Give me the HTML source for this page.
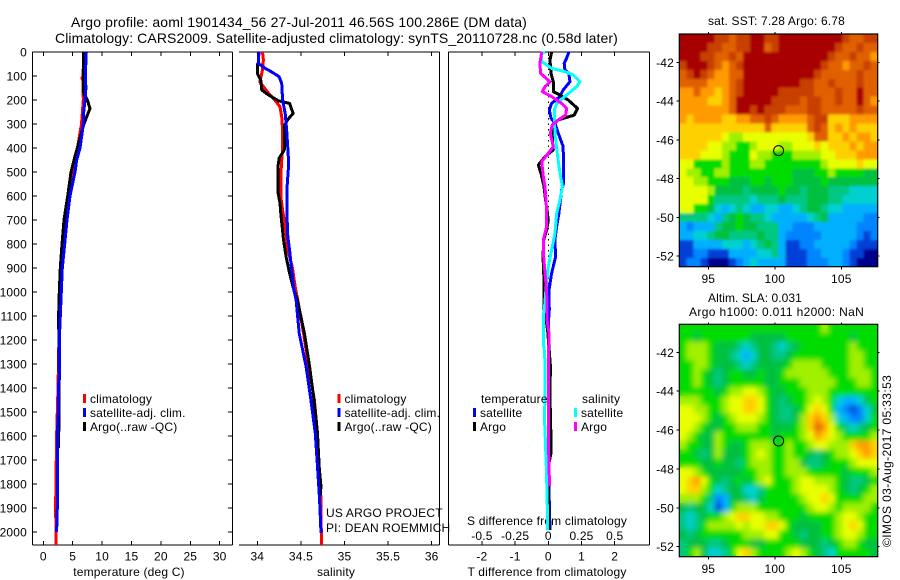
<!DOCTYPE html>
<html>
<head>
<meta charset="utf-8">
<title>Argo profile</title>
<style>
html,body{margin:0;padding:0;background:#fff;}
svg{display:block;}
text{font-family:"Liberation Sans",sans-serif;font-size:12px;fill:#000;letter-spacing:0.18px;}
</style>
</head>
<body>
<svg id="fig" width="900" height="580" viewBox="0 0 900 580" xmlns="http://www.w3.org/2000/svg">
<defs>
<filter id="blur-sst" x="-5%" y="-5%" width="110%" height="110%"><feGaussianBlur stdDeviation="1.4"/></filter>
<filter id="blur-sla" x="-5%" y="-5%" width="110%" height="110%"><feGaussianBlur stdDeviation="2.6"/></filter>
<clipPath id="clip-sst"><rect x="679.3" y="34" width="198.4" height="232.7"/></clipPath>
<clipPath id="clip-sla"><rect x="679.3" y="324.3" width="198.4" height="232.4"/></clipPath>
</defs>
<rect width="900" height="580" fill="#fff"/>
<text x="71" y="27" style="font-size:14px" textLength="456">Argo profile: aoml 1901434_56 27-Jul-2011 46.56S 100.286E (DM data)</text>
<text x="55" y="43" style="font-size:14px" textLength="563">Climatology: CARS2009. Satellite-adjusted climatology: synTS_20110728.nc (0.58d later)</text>
<text x="129" y="576" text-anchor="middle">temperature (deg C)</text>
<text x="336" y="576" text-anchor="middle">salinity</text>
<text x="547" y="576" text-anchor="middle" textLength="159">T difference from climatology</text>
<text x="547" y="525" text-anchor="middle" textLength="160">S difference from climatology</text>
<text x="326" y="517">US ARGO PROJECT</text>
<text x="326" y="532">PI: DEAN ROEMMICH</text>
<text x="708" y="25" textLength="137">sat. SST: 7.28 Argo: 6.78</text>
<text x="708" y="302" textLength="94">Altim. SLA: 0.031</text>
<text x="689" y="316" textLength="175">Argo h1000: 0.011 h2000: NaN</text>
<text transform="translate(891,547) rotate(-90)" textLength="172">©IMOS 03-Aug-2017 05:33:53</text>
</svg>
<script>
// ---- axis ticks ----
const depthTicks = [0,100,200,300,400,500,600,700,800,900,1000,1100,1200,1300,1400,1500,1600,1700,1800,1900,2000];
const tempTicks = [0,5,10,15,20,25,30];
const salTicks = [34,34.5,35,35.5,36];
const tDiffTicks = [-2,-1,0,1,2];
const sDiffTicks = [-0.5,-0.25,0,0.25,0.5];
const sDiffLabels = ["-0.5","-0.25","0","0.25","0.5"];
const lonTicks = [95,100,105];
const latTicks = [-42,-44,-46,-48,-50,-52];

// ---- temperature panel ----
const tempClimDepth = [0,100,110,120,200,300,400,500,600,700,800,900,1000,1100,1200,1400,1600,1900,2054];
const tempClimValue = [6.9,6.75,6.55,6.75,6.8,6.5,5.8,4.98,4.4,3.9,3.5,3.15,2.95,2.75,2.65,2.5,2.27,2.1,2.2];
const tempSatDepth = [0,100,150,200,250,300,350,400,450,500,600,700,800,900,1000,1100,1200,1350,1400,1500,1600,1900,2000];
const tempSatValue = [7.31,7.15,7.25,7.1,6.87,6.8,6.53,6.24,5.68,5.39,4.54,4.03,3.64,3.23,3.06,2.89,2.72,2.72,2.55,2.55,2.38,2.38,2.27];
const tempArgoDepth = [0,170,200,235,270,300,400,450,500,600,700,800,900,1000,1100,1350,1650];
const tempArgoValue = [6.87,6.87,7.49,7.94,7.38,6.9,5.78,5.22,4.71,4.15,3.52,3.18,2.89,2.72,2.6,2.72,2.6];

// ---- salinity panel ----
const salClimDepth = [0,33,75,124,144,172,200,228,270,325,408,450,519,603,658,728,825,894,992,1033,1172,1311,1450,1589,1728,1867,2054];
const salClimValue = [34.06,34.07,34.06,34.03,34.07,34.13,34.2,34.26,34.28,34.29,34.29,34.28,34.27,34.27,34.29,34.32,34.35,34.4,34.44,34.465,34.53,34.59,34.655,34.69,34.71,34.73,34.735];
const salSatDepth = [0,47,68,82,103,131,200,256,339,464,519,575,672,769,825,894,992,1033,1172,1311,1450,1589,1728,1867,2005];
const salSatValue = [34.02,34.01,34.09,34.16,34.25,34.28,34.29,34.32,34.34,34.36,34.35,34.34,34.34,34.35,34.37,34.39,34.42,34.445,34.48,34.56,34.615,34.665,34.69,34.715,34.73];
const salArgoDepth = [47,89,117,158,179,203,214,256,281,308,408,443,471,589,631,672,783,853,922,992,1033,1172,1311,1450,1589,1728,1811,1850];
const salArgoValue = [34,34,34.04,34.05,34.13,34.24,34.37,34.41,34.35,34.31,34.31,34.25,34.24,34.24,34.26,34.27,34.3,34.33,34.37,34.42,34.46,34.54,34.6,34.65,34.69,34.71,34.73,34.72];

// ---- difference panel ----
const dTSatDepth = [0,26,47,75,89,124,158,186,214,242,276,297,339,394,547,575,672,728,783,853,922,992,1075,1116,1172,1311,1450,1589,1728,1825,1991];
const dTSatValue = [0.62,0.55,0.48,0.5,0.62,0.65,0.45,0.35,0.1,0.03,0.08,0.2,0.3,0.45,0.46,0.4,0.32,0.25,0.2,0.22,0.1,0.02,0.03,0.01,0,0,0,0,0,0.02,0.05];
const dTArgoDepth = [0,33,89,124,165,179,200,235,263,283,304,367,408,436,471,506,561,617,700,742,783,853,950,1075,1116,1158,1318,1380,1436,1616,1672,1728,1991];
const dTArgoValue = [0.1,0.05,0.08,0.15,0.15,0.35,0.6,0.88,0.78,0.3,0.15,0.12,0.15,-0.1,-0.3,-0.22,-0.13,-0.08,0,-0.05,-0.14,-0.16,-0.13,-0.13,-0.07,-0.02,0.07,0.05,0.05,0.08,0.08,0,0.02];
const dSSatDepth = [0,6,40,68,82,96,124,144,179,214,242,339,422,506,561,617,672,756,811,894,992,1075,1088,1213,1241,1311,1450,1519,1575,1728,1866,1991];
const dSSatValue = [-0.025,-0.05,-0.05,0.025,0.126,0.188,0.239,0.214,0.138,0.063,0.045,0.05,0.068,0.088,0.106,0.088,0.063,0.05,0.03,0,-0.018,-0.03,-0.035,-0.038,-0.03,-0.023,-0.025,-0.03,-0.025,-0.015,-0.008,-0.005];
const dSArgoDepth = [0,47,89,124,144,165,186,214,235,263,283,304,339,394,422,457,519,561,658,728,783,853,922,992,1075,1116,1172,1311,1450,1589,1728,1811];
const dSArgoValue = [-0.05,-0.063,-0.058,0.013,-0.025,-0.045,0.025,0.1,0.138,0.13,0.075,0.03,0.015,0.038,0,-0.05,-0.038,-0.025,-0.013,-0.013,-0.038,-0.035,-0.025,-0.013,-0.008,-0.01,0.005,0,0,0,0.005,0.01];

// ---- maps ----
const mapPalette = ["#00008f","#0040d8","#0084ff","#00b0ff","#00d0d0","#00c880","#00c040","#00dc00","#a0f000","#e8ff00","#ffd000","#ff9a00","#e06000","#c84000","#a80000"];
const profileLon = 100.286;
const profileLat = -46.56;
const sstLevels = [
[14,14,14,14,14,13,13,12,13,13,14,14,13,13,14,14,14,14,14,14,14,14,14,13,12,12,13,13],
[14,14,14,14,13,13,12,12,13,13,14,14,12,13,14,14,14,14,14,14,14,14,13,12,12,13,12,12],
[14,14,14,13,13,12,12,13,12,14,14,14,14,14,14,14,14,14,14,14,14,13,12,12,13,12,12,11],
[13,14,14,14,13,12,11,12,13,14,14,14,14,14,14,14,14,14,14,14,13,12,12,11,12,12,13,12],
[12,13,14,13,12,11,11,12,12,14,14,14,14,14,14,14,14,14,14,13,12,12,12,12,12,13,12,12],
[12,12,12,12,11,11,11,12,13,14,14,14,14,14,14,14,14,13,13,12,12,13,12,12,12,13,12,12],
[11,11,12,11,11,10,11,12,13,14,14,14,14,14,13,13,13,13,13,12,12,12,13,12,12,14,12,12],
[11,11,11,11,10,10,11,12,14,14,14,14,14,13,13,13,13,12,13,13,12,12,13,12,12,14,12,11],
[11,11,11,11,11,11,11,12,14,14,13,14,13,13,13,12,12,12,13,13,12,12,12,12,12,13,12,12],
[11,10,11,11,11,11,10,10,11,11,12,12,13,12,11,11,11,11,12,13,13,10,10,10,11,11,11,11],
[10,10,10,10,10,10,10,10,10,10,10,10,12,10,10,10,10,10,12,13,12,10,11,10,11,10,10,10],
[10,10,10,10,10,10,9,8,8,9,9,9,9,9,9,9,9,9,10,12,12,10,10,11,10,11,11,10],
[10,10,10,10,9,9,8,8,7,7,8,9,9,9,8,8,9,9,9,10,9,10,10,10,11,10,11,11],
[10,10,10,9,9,9,8,7,7,7,9,8,8,7,7,7,8,8,8,8,9,9,10,10,10,11,11,11],
[9,9,7,7,7,7,8,7,7,7,8,8,7,7,7,7,7,7,7,7,8,9,9,9,9,10,9,9],
[9,8,8,7,7,8,8,7,7,7,7,7,7,7,7,7,6,6,6,7,7,8,7,7,7,7,6,6],
[9,9,8,8,7,7,7,6,6,6,7,7,6,7,7,7,6,6,6,6,7,6,6,6,6,6,6,6],
[9,9,9,9,8,6,6,6,6,5,6,6,6,6,7,6,6,5,6,6,6,5,5,5,4,4,4,4],
[9,9,9,9,7,5,5,5,5,5,4,5,5,5,6,5,5,5,6,6,6,5,5,4,4,4,4,4],
[9,9,7,7,6,4,3,4,5,4,3,3,4,4,3,3,4,5,6,6,5,4,4,3,3,3,3,3],
[5,5,5,5,4,3,5,6,7,6,5,5,4,3,3,3,3,3,4,5,6,3,3,3,3,3,2,2],
[3,2,3,3,3,5,6,6,7,6,6,5,5,5,3,3,2,2,2,3,3,3,3,3,3,2,2,2],
[3,3,4,4,5,6,6,5,5,5,5,6,5,5,3,2,2,2,2,2,3,3,3,3,3,2,1,2],
[1,1,3,3,3,3,4,4,4,3,4,5,6,5,3,1,1,2,2,3,3,3,3,3,2,1,1,1],
[1,1,2,2,1,1,1,3,3,3,3,4,4,5,3,1,1,1,2,2,3,3,3,2,1,1,0,0],
[1,2,2,1,0,0,0,1,2,3,4,3,3,3,3,1,1,1,2,2,2,3,3,2,1,0,0,0]
];
const slaLevels = [
[7,7,7,7,7,7,7,7,7,7,7,7,7,7,7,7,7,7,7,7,8,7,7,7,7,7,7,7],
[7,7,6,7,7,7,7,7,7,7,6,6,6,6,6,7,7,7,7,7,7,7,7,7,6,7,7,7],
[7,8,8,8,7,6,6,6,5,4,5,6,6,5,4,5,6,7,7,7,7,7,7,7,8,7,7,7],
[7,8,8,8,7,6,6,5,4,3,4,6,6,5,5,6,7,7,7,7,7,7,7,7,8,8,7,7],
[7,7,8,8,7,6,6,6,5,4,5,6,6,6,6,7,8,8,8,8,7,7,7,7,8,8,7,7],
[7,7,8,7,6,5,6,7,7,6,6,7,6,6,7,8,8,8,8,8,8,7,7,7,8,8,8,7],
[7,7,8,7,6,5,6,7,7,7,7,7,6,6,7,7,7,8,8,8,8,8,7,7,7,8,8,7],
[7,7,7,7,7,6,7,8,8,9,9,8,7,6,6,7,7,7,8,8,8,7,7,7,7,7,7,7],
[8,8,8,7,7,7,8,9,9,10,10,9,7,6,5,6,7,7,8,9,8,7,4,3,3,4,6,7],
[9,9,8,8,7,7,8,9,9,10,10,9,7,6,5,5,6,7,9,10,9,7,3,2,1,2,4,6],
[9,9,9,8,7,6,7,8,9,9,9,8,7,6,5,5,6,8,10,11,10,8,4,3,2,2,4,7],
[9,9,8,7,6,6,7,7,8,8,8,7,7,6,6,6,7,8,10,12,11,9,7,5,4,5,6,7],
[9,8,7,6,6,8,7,7,7,7,7,7,7,6,7,7,7,8,9,11,10,9,8,7,7,7,7,8],
[8,7,7,6,6,8,7,6,6,7,8,8,8,7,7,8,7,7,8,9,9,8,8,8,10,11,11,10],
[7,7,6,5,6,8,6,6,6,7,8,9,8,7,7,8,7,7,6,5,6,7,8,8,9,10,11,10],
[7,7,7,6,6,7,6,6,5,7,8,8,8,7,7,8,8,6,5,5,6,7,7,7,8,9,9,9],
[9,9,8,7,6,6,6,6,6,7,7,8,8,7,7,8,8,8,7,7,7,7,7,6,7,7,7,8],
[9,10,11,9,7,6,5,6,7,6,7,8,9,7,7,7,8,9,9,8,8,8,7,6,5,5,6,7],
[9,10,10,8,7,4,5,6,6,4,4,5,7,7,7,7,8,9,9,9,9,8,7,6,5,6,7,8],
[8,8,8,7,5,2,3,6,6,5,4,6,7,7,7,7,7,8,9,9,10,9,7,7,7,7,8,8],
[6,5,6,6,4,1,3,7,8,8,8,7,7,7,7,7,7,7,8,9,9,8,7,8,8,8,8,7],
[5,4,5,6,7,7,8,9,10,10,9,9,8,8,7,7,7,6,7,7,7,7,8,9,9,8,7,7],
[5,4,5,7,8,8,8,8,9,8,9,9,10,10,9,7,6,6,6,6,7,7,8,9,10,9,7,7],
[6,5,6,7,7,7,7,7,7,8,8,8,9,9,7,7,6,5,6,6,7,7,8,9,9,8,7,7],
[5,6,6,6,5,5,6,7,7,7,6,6,7,7,7,7,7,6,6,6,5,6,7,8,8,7,6,6],
[5,7,8,6,4,4,5,7,9,10,8,7,7,7,7,8,9,8,7,6,5,4,7,7,7,7,7,6]
];

const NS = "http://www.w3.org/2000/svg";
const svg = document.getElementById("fig");

// axis functions
const yDepth = d => 52 + d * 0.24;
const xTemp = t => 43.3 + t * 5.88;
const xSal = s => 257.3 + (s - 34) * 87.2;
const xDT = t => 548.3 + t * 33.2;
const xDS = s => 548.3 + s * 132.8;
const xLon = lon => 708.3 + (lon - 95) * 13.3;
const ySst = lat => 62.3 + (-42 - lat) * 19.37;
const ySla = lat => 352.3 + (-42 - lat) * 19.44;

function seg(x1, y1, x2, y2, name, color, width, parent) {
  const l = document.createElementNS(NS, "line");
  l.setAttribute("x1", x1);
  l.setAttribute("y1", y1);
  l.setAttribute("x2", x2);
  l.setAttribute("y2", y2);
  l.setAttribute("stroke", color || "#000");
  l.setAttribute("stroke-width", width || 1);
  l.setAttribute("shape-rendering", "crispEdges");
  
  
  (parent || svg).appendChild(l);
  return l;
}
function label(str, x, y, anchor, name) {
  const t = document.createElementNS(NS, "text");
  t.setAttribute("x", x);
  t.setAttribute("y", y);
  t.setAttribute("text-anchor", anchor || "middle");
  
  
  t.textContent = str;
  svg.appendChild(t);
  return t;
}
function profile(depths, values, xFn, color, width, name) {
  const p = document.createElementNS(NS, "polyline");
  p.setAttribute("points", depths.map((d, i) => xFn(values[i]).toFixed(1) + "," + yDepth(d).toFixed(1)).join(" "));
  p.setAttribute("fill", "none");
  p.setAttribute("stroke", color);
  p.setAttribute("stroke-width", width);
  p.setAttribute("stroke-linejoin", "round");
  p.setAttribute("shape-rendering", "crispEdges");
  
  
  svg.appendChild(p);
}
function legendEntry(x, y, color, text, name) {
  const r = document.createElementNS(NS, "rect");
  r.setAttribute("x", x);
  r.setAttribute("y", y);
  r.setAttribute("width", 3);
  r.setAttribute("height", 9);
  r.setAttribute("fill", color);
  
  
  svg.appendChild(r);
  label(text, x + 7, y + 9, "start", name + "-label");
}

const TOP = 52, BOT = 545;

// panel frames
seg(32.5, TOP, 232.5, TOP, "temperature-panel-top", "#000", 1.2);
seg(32.5, BOT, 232.5, BOT, "temperature-panel-bottom", "#000", 1.2);
seg(32.5, TOP, 32.5, BOT, "temperature-panel-left", "#000", 1.2);
seg(232.5, TOP, 232.5, BOT, "temperature-panel-right", "#000", 1.2);
seg(239, TOP, 439.5, TOP, "salinity-panel-top", "#000", 1.2);
seg(239, BOT, 439.5, BOT, "salinity-panel-bottom", "#000", 1.2);
seg(439.5, TOP, 439.5, BOT, "salinity-panel-right", "#000", 1.2);
seg(448.5, TOP, 649.5, TOP, "difference-panel-top", "#000", 1.2);
seg(448.5, BOT, 649.5, BOT, "difference-panel-bottom", "#000", 1.2);
seg(448.5, TOP, 448.5, BOT, "difference-panel-left", "#000", 1.2);
seg(649.5, TOP, 649.5, BOT, "difference-panel-right", "#000", 1.2);

// depth ticks
depthTicks.forEach(d => {
  const y = yDepth(d);
  seg(32.5, y, 37, y, "depth-tick-left");
  seg(228, y, 232.5, y, "depth-tick-right");
  label(String(d), 27, y + 4.5, "end", "depth-tick-label");
});
// x ticks
tempTicks.forEach(t => {
  const x = xTemp(t);
  seg(x, TOP, x, TOP + 4, "temperature-tick-top");
  seg(x, BOT, x, BOT - 4, "temperature-tick-bottom");
  label(String(t), x, 560.5, "middle", "temperature-tick-label");
});
salTicks.forEach(s => {
  const x = xSal(s);
  seg(x, TOP, x, TOP + 4, "salinity-tick-top");
  seg(x, BOT, x, BOT - 4, "salinity-tick-bottom");
  label(String(s), x, 560.5, "middle", "salinity-tick-label");
});
tDiffTicks.forEach(t => {
  const x = xDT(t);
  seg(x, TOP, x, TOP + 4, "t-difference-tick-top");
  seg(x, BOT, x, BOT - 4, "t-difference-tick-bottom");
  label(String(t), x, 560.5, "middle", "t-difference-tick-label");
});
sDiffTicks.forEach((s, i) => {
  label(sDiffLabels[i], xDS(s), 540, "middle", "s-difference-tick-label");
});

// zero line
const zeroLine = seg(xDT(0), TOP, xDT(0), yDepth(1000), "zero-difference-line", "#000", 1);
zeroLine.setAttribute("stroke-dasharray", "1.5 4");

// profiles
profile(tempClimDepth, tempClimValue, xTemp, "#ff0000", 3, "temperature-climatology-line");
profile(tempArgoDepth, tempArgoValue, xTemp, "#000000", 3, "temperature-argo-line");
profile(tempSatDepth, tempSatValue, xTemp, "#0000ff", 3, "temperature-satellite-line");
profile(salClimDepth, salClimValue, xSal, "#ff0000", 3, "salinity-climatology-line");
profile(salArgoDepth, salArgoValue, xSal, "#000000", 3, "salinity-argo-line");
profile(salSatDepth, salSatValue, xSal, "#0000ff", 3, "salinity-satellite-line");
profile(dTSatDepth, dTSatValue, xDT, "#0000ff", 3, "t-difference-satellite-line");
profile(dTArgoDepth, dTArgoValue, xDT, "#000000", 3, "t-difference-argo-line");
profile(dSSatDepth, dSSatValue, xDS, "#00ffff", 3, "s-difference-satellite-line");
profile(dSArgoDepth, dSArgoValue, xDS, "#ff00ff", 3, "s-difference-argo-line");

// legends
legendEntry(83, 394, "#ff0000", "climatology", "temperature-legend-climatology");
legendEntry(83, 408, "#0000ff", "satellite-adj. clim.", "temperature-legend-satellite");
legendEntry(83, 422, "#000000", "Argo(..raw -QC)", "temperature-legend-argo");
legendEntry(337.5, 394, "#ff0000", "climatology", "salinity-legend-climatology");
legendEntry(337.5, 408, "#0000ff", "satellite-adj. clim.", "salinity-legend-satellite");
legendEntry(337.5, 422, "#000000", "Argo(..raw -QC)", "salinity-legend-argo");
label("temperature", 481, 403, "start", "difference-legend-temperature-heading");
legendEntry(473, 408, "#0000ff", "satellite", "difference-legend-t-satellite");
legendEntry(473, 422, "#000000", "Argo", "difference-legend-t-argo");
label("salinity", 582, 403, "start", "difference-legend-salinity-heading");
legendEntry(574, 408, "#00ffff", "satellite", "difference-legend-s-satellite");
legendEntry(574, 422, "#ff00ff", "Argo", "difference-legend-s-argo");

// maps
function drawMap(levels, top, bottom, yLat, name, key) {
  const left = 679.3, right = 877.7;
  const rows = levels.length;
  const cols = levels[0].length;
  const cw = (right - left) / cols;
  const ch = (bottom - top) / rows;
  const base = document.createElementNS(NS, "g");
  base.setAttribute("id", "cells-" + key);
  
  
  svg.appendChild(base);
  levels.forEach((row, r) => {
    row.forEach((v, c) => {
      const cell = document.createElementNS(NS, "rect");
      cell.setAttribute("x", (left + c * cw).toFixed(2));
      cell.setAttribute("y", (top + r * ch).toFixed(2));
      cell.setAttribute("width", (cw + 0.4).toFixed(2));
      cell.setAttribute("height", (ch + 0.4).toFixed(2));
      cell.setAttribute("fill", mapPalette[v]);
      cell.setAttribute("shape-rendering", "crispEdges");
      
      
      base.appendChild(cell);
    });
  });
  // softened copy of the cells, clipped to the frame
  const clipWrap = document.createElementNS(NS, "g");
  clipWrap.setAttribute("clip-path", "url(#clip-" + key + ")");
  
  
  const soft = document.createElementNS(NS, "use");
  soft.setAttribute("href", "#cells-" + key);
  soft.setAttribute("filter", "url(#blur-" + key + ")");
  
  
  clipWrap.appendChild(soft);
  svg.appendChild(clipWrap);

  const frame = document.createElementNS(NS, "rect");
  frame.setAttribute("x", left);
  frame.setAttribute("y", top);
  frame.setAttribute("width", right - left);
  frame.setAttribute("height", bottom - top);
  frame.setAttribute("fill", "none");
  frame.setAttribute("stroke", "#000");
  frame.setAttribute("stroke-width", 1.2);
  
  
  svg.appendChild(frame);
  lonTicks.forEach(lon => {
    const x = xLon(lon);
    seg(x, top, x, top - 2, name + "-lon-tick-top");
    seg(x, bottom, x, bottom + 3, name + "-lon-tick-bottom");
    label(String(lon), x, bottom + 16.5, "middle", name + "-lon-label");
  });
  latTicks.forEach(lat => {
    const y = yLat(lat);
    seg(left, y, left - 3, y, name + "-lat-tick-left");
    seg(right, y, right + 2, y, name + "-lat-tick-right");
    label(String(lat), 674, y + 4.5, "end", name + "-lat-label");
  });
  const mark = document.createElementNS(NS, "circle");
  mark.setAttribute("cx", xLon(profileLon));
  mark.setAttribute("cy", yLat(profileLat));
  mark.setAttribute("r", 5);
  mark.setAttribute("fill", "none");
  mark.setAttribute("stroke", "#000");
  mark.setAttribute("stroke-width", 1);
  
  
  svg.appendChild(mark);
}
drawMap(sstLevels, 34, 266.7, ySst, "sst-map", "sst");
drawMap(slaLevels, 324.3, 556.7, ySla, "sla-map", "sla");
</script>
</body>
</html>
